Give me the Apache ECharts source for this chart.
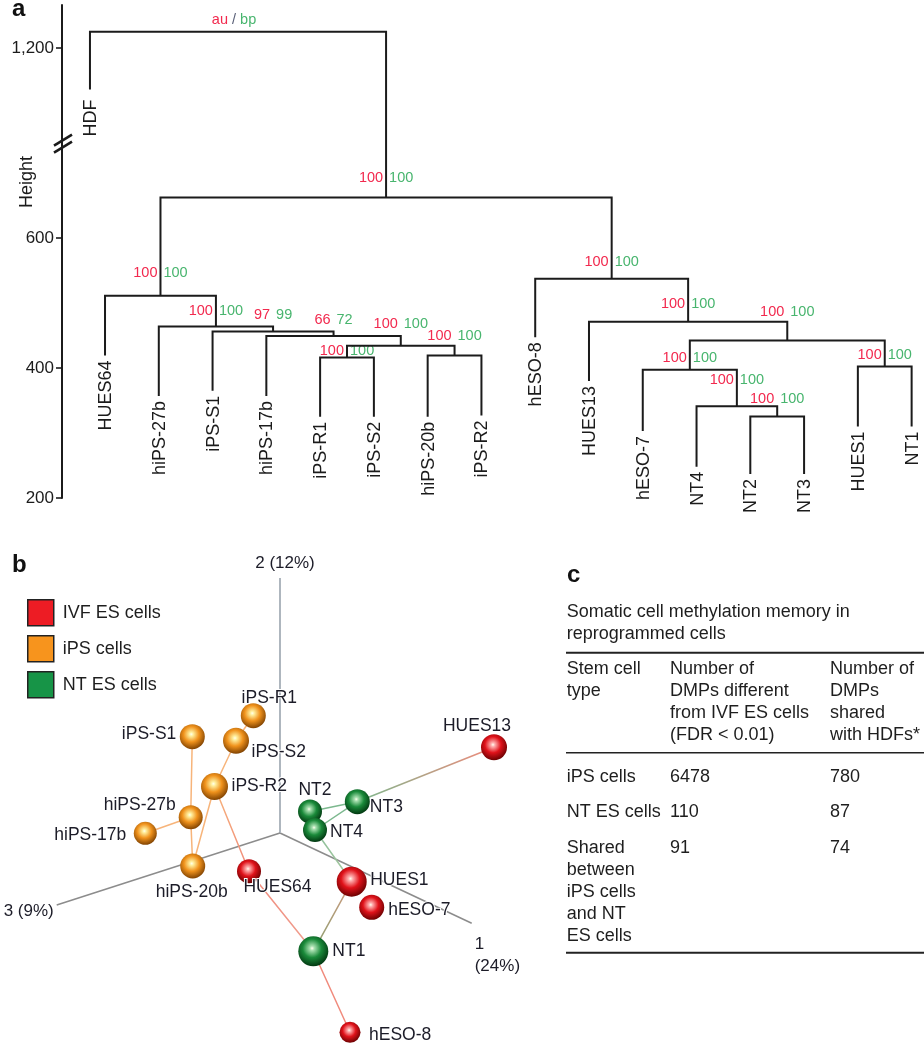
<!DOCTYPE html>
<html><head><meta charset="utf-8">
<script src="https://cdn.jsdelivr.net/npm/echarts@6/dist/echarts.min.js"></script>
<style>html,body{margin:0;padding:0;background:#fff}#main{width:924px;height:1050px}</style>
</head><body><div id="main"></div>
<script>
// ===================== DATA =====================
// Panel a: dendrogram (heights)
const leafNames = ['HDF','HUES64','hiPS-27b','iPS-S1','hiPS-17b','iPS-R1','iPS-S2','hiPS-20b','iPS-R2','hESO-8','HUES13','hESO-7','NT4','NT2','NT3','HUES1','NT1'];
const leafOrder = [1.72,2,3,4,5,6,7,8,9,10,11,12,13,14,15,16,17];
const leafHeight = [1136,419,357,365,357,325,325,325,327,447,380,303,248,237,237,310,310];
const mergeA = ['iPS-R1','hiPS-20b','m1','hiPS-17b','iPS-S1','hiPS-27b','HUES64','NT2','NT4','hESO-7','HUES1','m10','HUES13','hESO-8','m7','HDF'];
const mergeB = ['iPS-S2','iPS-R2','m2','m3','m4','m5','m6','NT3','m8','m9','NT1','m11','m12','m13','m14','m15'];
const mergeHeight = [416,419,434,449,456,463.5,511,325.5,341,397,402,442,471,537,662,1225];
const auValues = [100,100,100,66,97,100,100,100,100,100,100,100,100,100,100,null];
const bpValues = [100,100,100,72,99,100,100,100,100,100,100,100,100,100,100,null];
const yTickValues = [200,400,600,1200];
const yTickLabels = ['200','400','600','1,200'];

// Panel b: projected PCA coordinates
const pcaNames = ['iPS-R1','iPS-S1','iPS-S2','iPS-R2','hiPS-27b','hiPS-17b','hiPS-20b','HUES64','HUES13','HUES1','hESO-7','hESO-8','NT2','NT3','NT4','NT1'];
const pcaGroup = ['iPS cells','iPS cells','iPS cells','iPS cells','iPS cells','iPS cells','iPS cells','IVF ES cells','IVF ES cells','IVF ES cells','IVF ES cells','IVF ES cells','NT ES cells','NT ES cells','NT ES cells','NT ES cells'];
const pcaU = [-2.67,-8.77,-4.4,-6.55,-8.93,-13.47,-8.73,-3.1,21.4,7.17,9.17,7.0,3.0,7.73,3.5,3.33];
const pcaV = [11.73,9.63,9.23,4.65,1.57,-0.03,-3.3,-3.82,8.57,-4.87,-7.43,-19.93,2.15,3.13,0.3,-11.83];
const pcaDepth = [0.5,0.5,0.6,0.7,0.4,0.3,0.5,0.4,0.6,1.0,0.5,0.1,0.4,0.5,0.4,1.0];
const pcaEdges = [['iPS-R1','iPS-S2'],['iPS-S2','iPS-R2'],['iPS-R2','hiPS-20b'],['iPS-S1','hiPS-27b'],['hiPS-27b','hiPS-20b'],['hiPS-27b','hiPS-17b'],['iPS-R2','HUES64'],['HUES64','NT1'],['NT1','hESO-8'],['NT1','HUES1'],['HUES1','NT4'],['NT4','NT3'],['NT2','NT3'],['NT3','HUES13']];
const pcaAxisNames = ['1\n(24%)','2 (12%)','3 (9%)'];
const pcaAxisU = [19.17,0,-22.33];
const pcaAxisV = [-9.03,25.5,-7.2];
const groupNames = ['IVF ES cells','iPS cells','NT ES cells'];

// Panel c: table
const tableTitle = 'Somatic cell methylation memory in\nreprogrammed cells';
const colHeaders = ['Stem cell\ntype','Number of\nDMPs different\nfrom IVF ES cells\n(FDR < 0.01)','Number of\nDMPs\nshared\nwith HDFs*'];
const rowLabels = ['iPS cells','NT ES cells','Shared\nbetween\niPS cells\nand NT\nES cells'];
const dmpsDiffIVF = [6478,110,91];
const dmpsSharedHDF = [780,87,74];

// ===================== LAYOUT / STYLE =====================
const FONT = '"Liberation Sans", Arial, Helvetica, sans-serif';
const RED = '#f2294e', GREEN = '#48b56e', INK = '#1b1b1b';
const labelLift = [7,20,22,16,16,16,23,17,26,12,12,29,18,17,20,12];
const groupColors = {
  'IVF ES cells': {flat:'#ed1c24', hi:'#ffb0b0', base:'#e0121a', dark:'#640000', line:'#f08a7c'},
  'iPS cells':    {flat:'#f7941d', hi:'#fff0a0', base:'#f0921c', dark:'#7a3e00', line:'#f7b47a'},
  'NT ES cells':  {flat:'#179447', hi:'#a8e0b0', base:'#1a8a3a', dark:'#00320e', line:'#7cb88e'}
};
// line colour at each end of an edge (index into [start colour, end colour]) when it differs from node colours
const edgeColorOverride = {'HUES64|NT1':['#f08a7c','#f0a090'], 'NT1|hESO-8':['#f08a7c','#f08a7c'], 'NT1|HUES1':['#8aa070','#d09a80'], 'HUES1|NT4':['#a8c8a0','#8cc09a']};
const pcaLabelLayout = {
  'iPS-R1':['center',16,-18], 'iPS-S1':['right',-16,-3], 'iPS-S2':['left',15.5,11], 'iPS-R2':['left',17,0],
  'hiPS-27b':['right',-15,-12], 'hiPS-17b':['right',-19,2], 'hiPS-20b':['center',-1,26], 'HUES64':['center',28.5,16],
  'NT2':['center',5,-21.5], 'NT3':['left',12.5,5], 'NT4':['left',15,2], 'HUES13':['center',-17,-21.3],
  'HUES1':['left',18.5,-2], 'hESO-7':['left',16.5,3], 'NT1':['left',19,0], 'hESO-8':['left',19,3]
};
const pcaAxisLabelLayout = [['left',3,10],['center',5,-15],['right',-3,6]];
const pcaAxisStyle = [{stroke:'#8c8c8c', lineWidth:1.5},{stroke:'#aeb6be', lineWidth:2},{stroke:'#8c8c8c', lineWidth:1.5}];

// ===================== BUILD =====================
const nodeX = {}, nodeH = {};
leafNames.forEach((n,i)=>{ nodeX[n]=leafOrder[i]; nodeH[n]=leafHeight[i]; });
mergeA.forEach((a,i)=>{ const id='m'+(i+1); nodeX[id]=(nodeX[a]+nodeX[mergeB[i]])/2; nodeH[id]=mergeHeight[i]; });
const mergeData = mergeA.map((a,i)=>[nodeX[a], nodeH[a], nodeX[mergeB[i]], nodeH[mergeB[i]], mergeHeight[i]]);
const leafData = leafNames.map((n,i)=>[leafOrder[i], leafHeight[i]]);

function renderMerge(params, api){
  const i = params.dataIndex;
  const xa=api.value(0), ha=api.value(1), xb=api.value(2), hb=api.value(3), h=api.value(4);
  const p1=api.coord([xa,ha]), p2=api.coord([xa,h]), p3=api.coord([xb,h]), p4=api.coord([xb,hb]);
  const c = api.coord([(xa+xb)/2, h]);
  const ly = c[1]-labelLift[i];
  const children = [{type:'polyline', shape:{points:[p1,p2,p3,p4]}, style:{stroke:INK, lineWidth:2, fill:null, lineJoin:'miter'}}];
  if (auValues[i] != null) {
    children.push({type:'text', x:c[0]-3, y:ly, style:{text:String(auValues[i]), fill:RED, fontSize:14.5, fontFamily:FONT, align:'right', verticalAlign:'middle'}});
    children.push({type:'text', x:c[0]+3, y:ly, style:{text:String(bpValues[i]), fill:GREEN, fontSize:14.5, fontFamily:FONT, align:'left', verticalAlign:'middle'}});
  } else {
    children.push({type:'text', x:c[0]-4, y:ly, style:{text:'{a|au} {s|/} {b|bp}', fontSize:14.5, fontFamily:FONT, align:'center', verticalAlign:'middle',
      rich:{a:{fill:RED, fontSize:14.5, fontFamily:FONT}, s:{fill:'#5a6078', fontSize:14.5, fontFamily:FONT}, b:{fill:GREEN, fontSize:14.5, fontFamily:FONT}}}});
  }
  return {type:'group', children};
}
function renderLeaf(params, api){
  const i = params.dataIndex;
  const p = api.coord([api.value(0), api.value(1)]);
  return {type:'text', x:p[0]+1, y:p[1]+(i===0?10:5), rotation:Math.PI/2,
    style:{text:leafNames[i], fill:INK, fontSize:18, fontFamily:FONT, align:'right', verticalAlign:'middle'}};
}

// Panel b
const idx = {}; pcaNames.forEach((n,i)=>idx[n]=i);
function sphereColor(g){
  const c = groupColors[g];
  return {type:'radial', x:0.46, y:0.4, r:0.62, colorStops:[
    {offset:0, color:'#ffffee'},{offset:0.12, color:c.hi},{offset:0.5, color:c.base},{offset:1, color:c.dark}]};
}
const scatterSeries = groupNames.map(g=>({
  type:'scatter', name:g, xAxisIndex:1, yAxisIndex:1, z:5,
  symbol:'circle', symbolSize:(v)=>20+10*v[2],
  itemStyle:{color:sphereColor(g), opacity:1},
  data: pcaNames.map((n,i)=>({n,i})).filter(o=>pcaGroup[o.i]===g).map(o=>{
    const L = pcaLabelLayout[o.n];
    return {name:o.n, value:[pcaU[o.i], pcaV[o.i], pcaDepth[o.i]],
      label:{show:true, position:'inside', align:L[0], verticalAlign:'middle', offset:[L[1],L[2]], formatter:'{b}',
        fontSize:17.5, fontFamily:FONT, color:'#1c1c28', textBorderColor:'#fff', textBorderWidth:2}};
  }),
  emphasis:{disabled:true}, silent:true
}));
const edgeData = pcaEdges.map(e=>{ const a=idx[e[0]], b=idx[e[1]]; return [pcaU[a],pcaV[a],pcaU[b],pcaV[b],a,b]; });
function renderEdge(params, api){
  const i = params.dataIndex;
  const p = api.coord([api.value(0),api.value(1)]), q = api.coord([api.value(2),api.value(3)]);
  const key = pcaEdges[i].join('|');
  let ca = groupColors[pcaGroup[api.value(4)]].line, cb = groupColors[pcaGroup[api.value(5)]].line;
  if (edgeColorOverride[key]) { ca = edgeColorOverride[key][0]; cb = edgeColorOverride[key][1]; }
  return {type:'line', shape:{x1:p[0],y1:p[1],x2:q[0],y2:q[1]},
    style:{stroke:new echarts.graphic.LinearGradient(p[0],p[1],q[0],q[1],[{offset:0,color:ca},{offset:1,color:cb}],true), lineWidth:1.5}};
}
const axisData = pcaAxisU.map((u,i)=>[u, pcaAxisV[i]]);
function renderAxis(params, api){
  const i = params.dataIndex;
  const o = api.coord([0,0]), e = api.coord([api.value(0), api.value(1)]);
  const L = pcaAxisLabelLayout[i];
  return {type:'group', children:[
    {type:'line', shape:{x1:o[0],y1:o[1],x2:e[0],y2:e[1]}, style:pcaAxisStyle[i]},
    {type:'text', x:e[0]+L[1], y:e[1]+L[2], style:{text:pcaAxisNames[i], fill:'#1c1c28', fontSize:17, fontFamily:FONT, align:L[0], verticalAlign: i===0?'top':'middle', lineHeight:22}}
  ]};
}

// Panel c graphics
const colX = [566.7, 670, 830];
const rowTop = [766, 800.7, 837];
const LH = 22;
const tableGraphics = [];
function T(x,y,text,extra){ return Object.assign({type:'text', x, y, style:{text, fill:'#1e1e1e', fontSize:18, fontFamily:FONT, lineHeight:LH, align:'left', verticalAlign:'top'}}, extra||{}); }
tableGraphics.push({type:'text', x:567, y:575, style:{text:'c', fill:'#111', fontSize:24, fontWeight:'bold', fontFamily:FONT, verticalAlign:'middle'}});
tableGraphics.push(T(566.7, 600.7, tableTitle));
tableGraphics.push({type:'line', shape:{x1:566, y1:652.7, x2:924, y2:652.7}, style:{stroke:'#222', lineWidth:2}});
colHeaders.forEach((h,j)=>tableGraphics.push(T(colX[j], 658.3, h)));
tableGraphics.push({type:'line', shape:{x1:566, y1:752.7, x2:924, y2:752.7}, style:{stroke:'#222', lineWidth:1.6}});
rowLabels.forEach((r,k)=>{
  tableGraphics.push(T(colX[0], rowTop[k], r));
  tableGraphics.push(T(colX[1], rowTop[k], String(dmpsDiffIVF[k])));
  tableGraphics.push(T(colX[2], rowTop[k], String(dmpsSharedHDF[k])));
});
tableGraphics.push({type:'line', shape:{x1:566, y1:952.7, x2:924, y2:952.7}, style:{stroke:'#222', lineWidth:2}});

const otherGraphics = [
  {type:'text', x:12, y:9, style:{text:'a', fill:'#111', fontSize:24, fontWeight:'bold', fontFamily:FONT, verticalAlign:'middle'}},
  {type:'text', x:12, y:565, style:{text:'b', fill:'#111', fontSize:24, fontWeight:'bold', fontFamily:FONT, verticalAlign:'middle'}},
  {type:'text', x:27, y:182, rotation:Math.PI/2, style:{text:'Height', fill:INK, fontSize:18, fontFamily:FONT, align:'center', verticalAlign:'middle'}}
];

const chart = echarts.init(document.getElementById('main'), null, {renderer:'canvas'});
chart.setOption({
  animation:false,
  backgroundColor:'#fff',
  grid:[{left:62, top:5, width:862, height:493},{left:0, top:548, width:560, height:502}],
  xAxis:[{gridIndex:0, type:'value', min:1.2, max:17.23, show:false},
         {gridIndex:1, type:'value', min:-28, max:28, show:false}],
  yAxis:[{gridIndex:0, type:'value', min:200, max:1266, interval:200,
          breaks:[{start:745, end:1053, gap:0}], breakArea:{show:false},
          axisLine:{show:true, lineStyle:{color:INK, width:2}},
          axisTick:{show:true, length:6, lineStyle:{color:INK, width:1.6}, customValues:yTickValues},
          axisLabel:{show:true, customValues:yTickValues, formatter:(v)=>yTickLabels[yTickValues.indexOf(v)] ?? '', fontSize:17, fontFamily:FONT, color:INK, margin:8},
          splitLine:{show:false}},
         {gridIndex:1, type:'value', min:-21.7, max:28.5, show:false}],
  legend:{data:groupNames.map(g=>({name:g, icon:'rect', itemStyle:{color:groupColors[g].flat, borderColor:'#222', borderWidth:1.5}})),
    orient:'vertical', left:22, top:594, itemWidth:26, itemHeight:26, itemGap:8.5, selectedMode:false,
    textStyle:{fontSize:18, fontFamily:FONT, color:'#1e1e1e', padding:[0,0,0,4]}},
  series:[
    {type:'custom', name:'dendro', xAxisIndex:0, yAxisIndex:0, data:mergeData, renderItem:renderMerge, silent:true, clip:false},
    {type:'custom', name:'leaves', xAxisIndex:0, yAxisIndex:0, data:leafData, renderItem:renderLeaf, silent:true, clip:false},
    {type:'custom', name:'pcaAxes', xAxisIndex:1, yAxisIndex:1, data:axisData, renderItem:renderAxis, silent:true, z:1, clip:false},
    {type:'custom', name:'pcaEdges', xAxisIndex:1, yAxisIndex:1, data:edgeData, renderItem:renderEdge, silent:true, z:2, clip:false}
  ].concat(scatterSeries),
  graphic: tableGraphics.concat(otherGraphics)
});

// axis break marks "//" on the Height axis
const yb = chart.convertToPixel({yAxisIndex:0}, 745);
const xb = 63;
chart.setOption({graphic: tableGraphics.concat(otherGraphics).concat([
  {type:'group', x:xb, y:yb, children:[
    {type:'polygon', shape:{points:[[-9,5],[9,-6],[9,1],[-9,12]]}, style:{fill:'#fff'}, position:[0,-3]},
    {type:'line', shape:{x1:-9, y1:2, x2:9, y2:-9}, style:{stroke:INK, lineWidth:2.6}},
    {type:'line', shape:{x1:-9, y1:9, x2:9, y2:-2}, style:{stroke:INK, lineWidth:2.6}}
  ]}
])});
</script></body></html>
